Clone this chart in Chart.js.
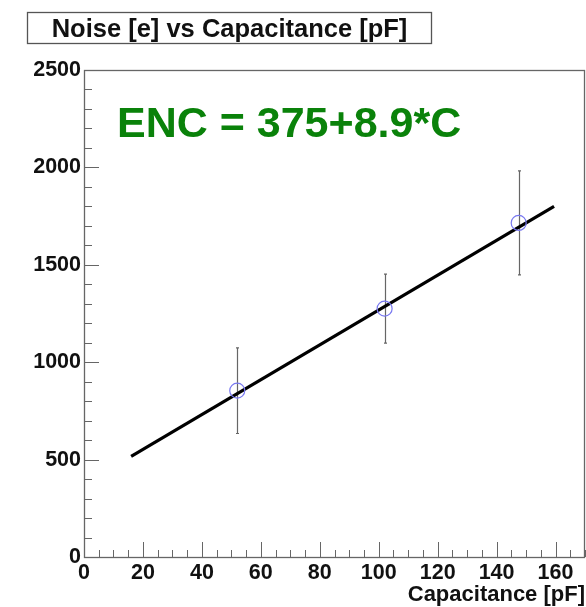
<!DOCTYPE html>
<html>
<head>
<meta charset="utf-8">
<script src="https://cdn.jsdelivr.net/npm/chart.js@4"></script>
<style>
  body { margin: 0; background: #fff; }
  canvas { display: block; }
</style>
</head>
<body>
<canvas id="c" width="586" height="607"></canvas>
<script>
const capacitance = [52, 102, 147.5];
const noise = [854, 1275, 1715];
const noiseErr = [220, 177, 267];

// fitted line end points
const fitX = [16, 159.5];
const fitY = [517, 1800];

const xTickLabels = [0, 20, 40, 60, 80, 100, 120, 140, 160];
const yTickLabels = [0, 500, 1000, 1500, 2000, 2500];

const titleText = "Noise [e] vs Capacitance [pF]";
const fitText = "ENC = 375+8.9*C";
const xTitle = "Capacitance [pF]";

const FONT = "'Liberation Sans', Arial, Helvetica, sans-serif";
const AXIS = "#666";

// error bars under the points
const errorBars = {
  id: "errorBars",
  beforeDatasetsDraw(chart) {
    const { ctx, scales: { x, y } } = chart;
    ctx.save();
    ctx.strokeStyle = "#666";
    ctx.lineWidth = 1.2;
    capacitance.forEach((c, i) => {
      const px = Math.round(x.getPixelForValue(c)) + 0.5;
      const top = y.getPixelForValue(noise[i] + noiseErr[i]);
      const bot = y.getPixelForValue(noise[i] - noiseErr[i]);
      ctx.beginPath();
      ctx.moveTo(px, top); ctx.lineTo(px, bot);
      ctx.moveTo(px - 1.5, top); ctx.lineTo(px + 1.5, top);
      ctx.moveTo(px - 1.5, bot); ctx.lineTo(px + 1.5, bot);
      ctx.stroke();
    });
    ctx.restore();
  }
};

// frame, inside ticks, title box and fit label (ROOT style)
const decor = {
  id: "decor",
  afterDraw(chart) {
    const { ctx, chartArea: a, scales: { x, y } } = chart;
    ctx.save();
    ctx.strokeStyle = AXIS;
    ctx.lineWidth = 1.3;
    ctx.strokeRect(a.left + 0.5, a.top + 0.5, a.right - a.left - 1, a.bottom - a.top);

    ctx.lineWidth = 1;
    ctx.beginPath();
    y.ticks.forEach(t => {
      const py = Math.round(y.getPixelForValue(t.value)) + 0.5;
      const len = t.value % 500 === 0 ? 15 : 8;
      ctx.moveTo(a.left, py); ctx.lineTo(a.left + len, py);
    });
    x.ticks.forEach(t => {
      const px = Math.round(x.getPixelForValue(t.value)) + 0.5;
      const len = t.value % 20 === 0 ? 15 : 7;
      ctx.moveTo(px, a.bottom); ctx.lineTo(px, a.bottom - len);
    });
    ctx.stroke();

    // title box
    ctx.fillStyle = "#fff";
    ctx.fillRect(27, 12, 405, 32);
    ctx.strokeStyle = "#555";
    ctx.lineWidth = 1.3;
    ctx.strokeRect(27.5, 12.5, 404, 31);
    ctx.fillStyle = "#111";
    ctx.font = "bold 25.5px " + FONT;
    ctx.textAlign = "center";
    ctx.textBaseline = "alphabetic";
    ctx.fillText(titleText, 229.5, 37);

    // fit formula
    ctx.fillStyle = "#0a820a";
    ctx.font = "bold 43px " + FONT;
    ctx.textAlign = "left";
    ctx.fillText(fitText, 117, 137);
    ctx.restore();
  }
};

new Chart(document.getElementById("c"), {
  type: "scatter",
  data: {
    datasets: [
      {
        type: "line",
        data: fitX.map((v, i) => ({ x: v, y: fitY[i] })),
        borderColor: "#000",
        borderWidth: 3.2,
        pointRadius: 0,
        fill: false,
        order: 2,
      },
      {
        data: capacitance.map((v, i) => ({ x: v, y: noise[i] })),
        pointStyle: "circle",
        pointRadius: 7.5,
        pointBorderColor: "#7878f0",
        pointBackgroundColor: "rgba(0,0,0,0)",
        pointBorderWidth: 1.2,
        order: 1,
      },
    ],
  },
  options: {
    responsive: false,
    animation: false,
    layout: { autoPadding: false, padding: { top: 70, right: 1, left: 0, bottom: 0 } },
    plugins: { legend: { display: false }, tooltip: { enabled: false } },
    scales: {
      x: {
        type: "linear",
        min: 0,
        max: 170,
        grid: { display: false, drawTicks: false },
        border: { display: false },
        afterFit: s => { s.height = 50; s.paddingLeft = 0; s.paddingRight = 0; },
        ticks: {
          stepSize: 5,
          autoSkip: false,
          maxRotation: 0,
          padding: 3,
          color: "#111",
          font: { family: FONT, size: 21.5, weight: "bold" },
          callback: v => xTickLabels.includes(v) ? String(v) : "",
        },
        title: {
          display: true,
          text: xTitle,
          align: "end",
          color: "#111",
          padding: { top: 0, bottom: -1 },
          font: { family: FONT, size: 22, weight: "bold" },
        },
      },
      y: {
        type: "linear",
        min: 0,
        max: 2500,
        grid: { display: false, drawTicks: false },
        border: { display: false },
        afterFit: s => { s.width = 84; s.paddingTop = 0; s.paddingBottom = 0; },
        ticks: {
          stepSize: 100,
          autoSkip: false,
          padding: 3,
          color: "#111",
          font: { family: FONT, size: 21.5, weight: "bold" },
          callback: v => yTickLabels.includes(v) ? String(v) : "",
        },
      },
    },
  },
  plugins: [errorBars, decor],
});
</script>
</body>
</html>
